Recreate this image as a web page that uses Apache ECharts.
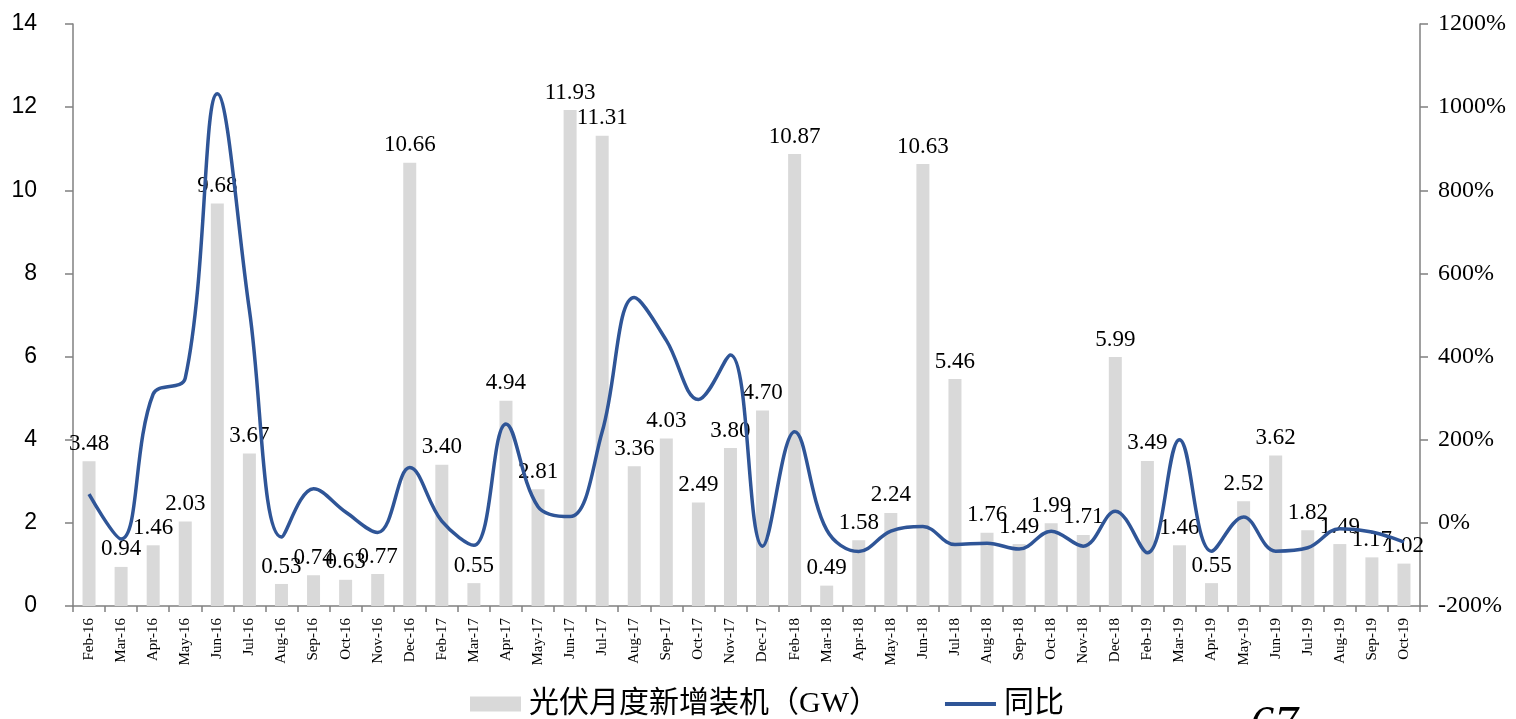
<!DOCTYPE html>
<html>
<head>
<meta charset="utf-8">
<title>光伏月度新增装机</title>
<script src="https://cdn.jsdelivr.net/npm/echarts@6/dist/echarts.min.js"></script>
<style>
  html, body { margin: 0; padding: 0; background: #ffffff; }
  #chart { width: 1516px; height: 719px; }
</style>
</head>
<body>
<div id="chart"></div>
<script>
// Months shown on the category axis (January is not reported separately)
const months = [
  'Feb-16','Mar-16','Apr-16','May-16','Jun-16','Jul-16','Aug-16','Sep-16','Oct-16','Nov-16','Dec-16',
  'Feb-17','Mar-17','Apr-17','May-17','Jun-17','Jul-17','Aug-17','Sep-17','Oct-17','Nov-17','Dec-17',
  'Feb-18','Mar-18','Apr-18','May-18','Jun-18','Jul-18','Aug-18','Sep-18','Oct-18','Nov-18','Dec-18',
  'Feb-19','Mar-19','Apr-19','May-19','Jun-19','Jul-19','Aug-19','Sep-19','Oct-19'
];

// Monthly new PV installations (GW)
const newInstalled = [
  3.48, 0.94, 1.46, 2.03, 9.68, 3.67, 0.53, 0.74, 0.63, 0.77, 10.66,
  3.40, 0.55, 4.94, 2.81, 11.93, 11.31, 3.36, 4.03, 2.49, 3.80, 4.70,
  10.87, 0.49, 1.58, 2.24, 10.63, 5.46, 1.76, 1.49, 1.99, 1.71, 5.99,
  3.49, 1.46, 0.55, 2.52, 3.62, 1.82, 1.49, 1.17, 1.02
];

// Year-on-year change (%)
const yoyPct = [
  69, -39, 310, 348, 1032, 512, -34, 82, 26, -23, 133,
  4, -54, 238, 39, 15, 219, 542, 439, 297, 404, -56,
  219, -17, -69, -20, -9, -52, -49, -63, -20, -56, 28,
  -72, 200, -68, 14, -68, -60, -14, -22, -46
];

// Axis tick settings
const leftAxis = { min: 0, max: 14, step: 2 };
const rightAxis = { min: -200, max: 1200, step: 200 };

const legendNames = ['光伏月度新增装机（GW）', '同比'];

const serif = '"Liberation Serif", "Times New Roman", serif';
const sans = '"Liberation Sans", Arial, sans-serif';
const axisGray = '#808080';
const lineBlue = '#2f5597';

const chart = echarts.init(document.getElementById('chart'), null, { renderer: 'canvas' });

chart.setOption({
  animation: false,
  backgroundColor: '#ffffff',
  grid: { left: 73, right: 96, top: 24, bottom: 113, containLabel: false },
  legend: {
    left: 470,
    top: 689,
    padding: 0,
    itemWidth: 51,
    itemHeight: 15,
    itemGap: 66,
    textStyle: {
      fontFamily: '"Liberation Serif", "Noto Sans CJK SC", serif',
      fontSize: 30,
      color: '#000000',
      padding: [0, 0, 0, 3]
    },
    data: [
      { name: legendNames[0], icon: 'rect' },
      // thin bar as the line-series key
      { name: legendNames[1], icon: 'path://M0,0L51,0L51,4L0,4Z' }
    ]
  },
  xAxis: {
    type: 'category',
    data: months,
    boundaryGap: true,
    axisLine: { lineStyle: { color: axisGray, width: 1.5 } },
    axisTick: { show: true, length: 6, lineStyle: { color: axisGray, width: 1.5 } },
    axisLabel: {
      interval: 0,
      rotate: 90,
      margin: 12,
      fontFamily: serif,
      fontSize: 15,
      color: '#000000'
    },
    splitLine: { show: false }
  },
  yAxis: [
    {
      type: 'value',
      min: leftAxis.min,
      max: leftAxis.max,
      interval: leftAxis.step,
      axisLine: { show: true, lineStyle: { color: axisGray, width: 1.5 } },
      axisTick: { show: true, length: 8, lineStyle: { color: axisGray, width: 1.5 } },
      axisLabel: { margin: 36, fontFamily: sans, fontSize: 23, color: '#000000' },
      splitLine: { show: false }
    },
    {
      type: 'value',
      position: 'right',
      min: rightAxis.min,
      max: rightAxis.max,
      interval: rightAxis.step,
      axisLine: { show: true, lineStyle: { color: axisGray, width: 1.5 } },
      axisTick: { show: true, length: 8, lineStyle: { color: axisGray, width: 1.5 } },
      axisLabel: {
        margin: 18,
        fontFamily: serif,
        fontSize: 24,
        color: '#000000',
        formatter: v => String(v) + '%'
      },
      splitLine: { show: false }
    }
  ],
  series: [
    {
      name: legendNames[0],
      type: 'bar',
      yAxisIndex: 0,
      data: newInstalled,
      barWidth: 13,
      itemStyle: { color: '#d9d9d9' },
      label: {
        show: true,
        position: 'top',
        distance: 6,
        fontFamily: serif,
        fontSize: 23,
        color: '#000000',
        formatter: p => p.value.toFixed(2)
      },
      z: 2
    },
    {
      name: legendNames[1],
      type: 'line',
      yAxisIndex: 1,
      data: yoyPct,
      smooth: 0.38,
      symbol: 'none',
      lineStyle: { color: lineBlue, width: 3.5 },
      itemStyle: { color: lineBlue },
      z: 3
    }
  ],
  graphic: [
    {
      type: 'text',
      left: 1250,
      top: 702,
      silent: true,
      style: {
        text: '67',
        font: 'italic 48px "Liberation Serif", serif',
        fill: '#000000'
      }
    }
  ]
});
</script>
</body>
</html>
